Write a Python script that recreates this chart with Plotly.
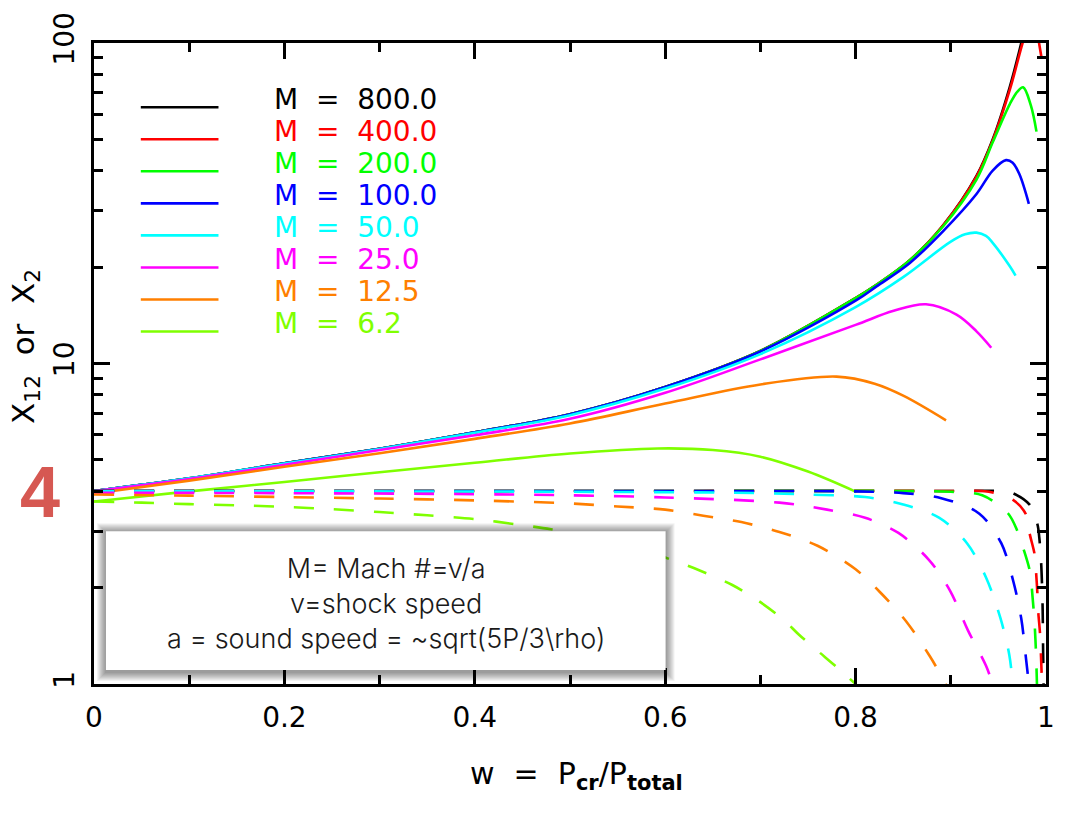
import plotly.graph_objects as go

# ---------------- data ----------------
mach_labels = ["800.0", "400.0", "200.0", "100.0", "50.0", "25.0", "12.5", "6.2"]
colors = ["#000000", "#FF0000", "#00FF00", "#0000FF", "#00FFFF", "#FF00FF", "#FF7F00", "#7FFF00"]

# solid curves: X12 (total compression) vs w
w_s_800 = [0, 0.1, 0.2, 0.3, 0.4, 0.5, 0.6, 0.7, 0.8, 0.822, 0.857, 0.892, 0.927, 0.944, 0.962, 0.974, 0.985]
x12_800 = [4.0, 4.38, 4.88, 5.42, 6.1, 6.95, 8.45, 10.95, 16.0, 17.6, 21.0, 27.0, 38.5, 50.0, 73.0, 100.0, 140.0]

w_s_400 = [0, 0.1, 0.2, 0.3, 0.4, 0.5, 0.6, 0.7, 0.8, 0.822, 0.857, 0.892, 0.927, 0.944, 0.962, 0.975, 0.983, 0.989, 0.9927, 0.9953]
x12_400 = [4.0, 4.38, 4.88, 5.42, 6.1, 6.95, 8.45, 10.95, 16.0, 17.6, 21.0, 27.0, 38.3, 49.6, 71.5, 99.0, 118.0, 117.0, 100.0, 90.0]

w_s_200 = [0, 0.1, 0.2, 0.3, 0.4, 0.5, 0.6, 0.7, 0.8, 0.822, 0.857, 0.892, 0.927, 0.944, 0.962, 0.970, 0.976, 0.984, 0.990]
x12_200 = [4.0, 4.38, 4.88, 5.42, 6.1, 6.95, 8.45, 10.95, 16.0, 17.6, 21.0, 26.8, 37.5, 49.0, 64.5, 70.5, 72.7, 64.0, 52.9]

w_s_100 = [0, 0.1, 0.2, 0.3, 0.4, 0.5, 0.6, 0.7, 0.8, 0.822, 0.857, 0.892, 0.927, 0.944, 0.958, 0.965, 0.972, 0.982]
x12_100 = [4.0, 4.38, 4.88, 5.42, 6.1, 6.95, 8.45, 10.9, 15.7, 17.4, 20.6, 25.9, 33.8, 40.0, 43.1, 42.3, 39.0, 31.5]

w_s_50 = [0, 0.1, 0.2, 0.3, 0.4, 0.5, 0.6, 0.7, 0.8, 0.85, 0.9, 0.915, 0.927, 0.937, 0.944, 0.962, 0.968]
x12_50 = [4.0, 4.38, 4.87, 5.41, 6.08, 6.9, 8.35, 10.7, 15.0, 18.6, 24.0, 25.3, 25.6, 25.0, 23.8, 20.1, 18.8]

w_s_25 = [0, 0.1, 0.2, 0.3, 0.4, 0.5, 0.6, 0.7, 0.8, 0.84, 0.874, 0.906, 0.927, 0.9425]
x12_25 = [4.0, 4.36, 4.83, 5.37, 5.97, 6.72, 8.1, 10.3, 13.2, 14.6, 15.3, 14.2, 12.6, 11.2]

w_s_12 = [0, 0.1, 0.2, 0.3, 0.4, 0.5, 0.6, 0.7, 0.78, 0.82, 0.85, 0.895]
x12_12 = [3.93, 4.31, 4.76, 5.25, 5.82, 6.5, 7.5, 8.6, 9.1, 8.65, 7.94, 6.65]

w_s_6 = [0, 0.1, 0.2, 0.3, 0.4, 0.5, 0.592, 0.65, 0.7, 0.75, 0.801]
x12_6 = [3.71, 3.99, 4.27, 4.58, 4.90, 5.24, 5.43, 5.37, 5.12, 4.60, 3.97]

# dashed curves: X2 (subshock compression) vs w
w_d_800 = [0, 0.5, 0.9, 0.955, 0.965, 0.983, 0.991, 0.993, 0.9948, 0.9958, 0.9965, 0.997, 0.9975]
x2_800 = [4.0, 4.0, 4.0, 3.995, 3.94, 3.62, 3.15, 2.85, 2.42, 2.05, 1.7, 1.25, 1.0]

w_d_400 = [0, 0.5, 0.9, 0.94, 0.965, 0.979, 0.983, 0.988, 0.9895, 0.991, 0.992, 0.9937, 0.9948, 0.9958]
x2_400 = [4.0, 4.0, 4.0, 3.98, 3.76, 3.38, 2.93, 2.54, 2.25, 1.91, 1.66, 1.44, 1.21, 1.0]

w_d_200 = [0, 0.5, 0.85, 0.9, 0.933, 0.96, 0.97, 0.976, 0.983, 0.986, 0.988, 0.9895, 0.9905]
x2_200 = [4.0, 4.0, 4.0, 3.98, 3.88, 3.41, 3.0, 2.66, 2.25, 1.85, 1.55, 1.25, 1.0]

w_d_100 = [0, 0.5, 0.75, 0.8, 0.85, 0.89, 0.93, 0.953, 0.9655, 0.974, 0.979, 0.982]
x2_100 = [4.0, 4.0, 4.0, 3.99, 3.94, 3.80, 3.40, 2.75, 2.1, 1.6, 1.2, 1.0]

w_d_50 = [0, 0.5, 0.7, 0.75, 0.81, 0.85, 0.888, 0.917, 0.937, 0.952, 0.9615, 0.965]
x2_50 = [3.99, 3.98, 3.94, 3.90, 3.83, 3.63, 3.30, 2.75, 2.15, 1.61, 1.23, 1.0]

w_d_25 = [0, 0.2, 0.4, 0.5, 0.6, 0.72, 0.77, 0.81, 0.845, 0.877, 0.899, 0.918, 0.937, 0.944]
x2_25 = [3.95, 3.94, 3.91, 3.88, 3.82, 3.68, 3.50, 3.30, 2.96, 2.44, 1.96, 1.47, 1.14, 1.0]

w_d_12 = [0, 0.1, 0.2, 0.3, 0.4, 0.5, 0.55, 0.6, 0.64, 0.68, 0.72, 0.76, 0.80, 0.826, 0.853, 0.878, 0.895]
x2_12 = [3.90, 3.87, 3.83, 3.79, 3.74, 3.66, 3.58, 3.50, 3.35, 3.20, 2.98, 2.70, 2.28, 1.93, 1.57, 1.22, 1.0]

w_d_6 = [0, 0.05, 0.1, 0.15, 0.2, 0.25, 0.3, 0.35, 0.4, 0.45, 0.48, 0.52, 0.56, 0.6, 0.63, 0.67, 0.70, 0.725, 0.74, 0.76, 0.78, 0.80]
x2_6 = [3.71, 3.68, 3.64, 3.61, 3.57, 3.51, 3.44, 3.36, 3.27, 3.13, 3.04, 2.88, 2.70, 2.48, 2.30, 2.04, 1.80, 1.58, 1.43, 1.27, 1.13, 1.0]

x_tick_vals = [0, 0.2, 0.4, 0.6, 0.8, 1]
x_tick_text = ["0", "0.2", "0.4", "0.6", "0.8", "1"]
y_tick_vals = [1, 10, 100]
y_tick_text = ["1", "10", "100"]
y_minor_vals = [2, 3, 4, 5, 6, 7, 8, 9, 20, 30, 40, 50, 60, 70, 80, 90]

box_lines = ["M= Mach #=v/a", "v=shock speed", "a = sound speed = ~sqrt(5P/3\\rho)"]

solids = [(w_s_800, x12_800), (w_s_400, x12_400), (w_s_200, x12_200), (w_s_100, x12_100),
          (w_s_50, x12_50), (w_s_25, x12_25), (w_s_12, x12_12), (w_s_6, x12_6)]
dashes = [(w_d_800, x2_800), (w_d_400, x2_400), (w_d_200, x2_200), (w_d_100, x2_100),
          (w_d_50, x2_50), (w_d_25, x2_25), (w_d_12, x2_12), (w_d_6, x2_6)]

# ---------------- layout helpers (pixel -> paper) ----------------
W, H = 1067, 817
L, R, T, B = 94, 1050, 38, 684


def px(x):
    return (x - L) / (R - L)


def py(y):
    return (B - y) / (B - T)


fig = go.Figure()

for (w, v), c, m in zip(solids, colors, mach_labels):
    fig.add_trace(go.Scatter(x=w, y=v, mode="lines", name="M = " + m,
                             line=dict(color=c, width=2.6, shape="spline", smoothing=1.0),
                             showlegend=False))

for (w, v), c, m in zip(dashes, colors, mach_labels):
    fig.add_trace(go.Scatter(x=w, y=v, mode="lines", name="M = " + m + " (X2)",
                             line=dict(color=c, width=2.6, dash="20px,20px", shape="spline", smoothing=0.9),
                             showlegend=False))

shapes = []
annotations = []

# custom legend
tick_font = "DejaVu Sans, Liberation Sans, sans-serif"
for i, (m, c) in enumerate(zip(mach_labels, colors)):
    yy = 102.7 + 32.3 * i
    shapes.append(dict(type="line", xref="paper", yref="paper", x0=px(141), x1=px(219),
                       y0=py(yy), y1=py(yy), line=dict(color=c, width=2.6), layer="above"))
    annotations.append(dict(xref="paper", yref="paper", x=px(273), y=py(yy - 8), xanchor="left",
                            yanchor="middle", showarrow=False, text="M  =  " + m,
                            font=dict(family=tick_font, size=28, color=c)))

# text box with soft shadow
bx0, bx1, by0, by1 = 106, 668, 530, 670
for k in range(9, 0, -1):
    shapes.append(dict(type="rect", xref="paper", yref="paper",
                       x0=px(bx0 - k), x1=px(bx1 + k), y0=py(by1 + k + 2), y1=py(by0 - k + 1),
                       fillcolor="rgba(0,0,0,0.05)", line=dict(width=0), layer="above"))
shapes.append(dict(type="rect", xref="paper", yref="paper", x0=px(bx0), x1=px(bx1),
                   y0=py(by1), y1=py(by0), fillcolor="white", line=dict(width=0), layer="above"))
annotations.append(dict(xref="paper", yref="paper", x=px((bx0 + bx1) / 2), y=py(603),
                        xanchor="center", yanchor="middle", showarrow=False,
                        text="<br>".join(box_lines), align="center",
                        font=dict(family="Inter, Lato, Helvetica Neue, sans-serif", size=27,
                                  color="#1a1a1a", weight=300)))

# big red "4"
annotations.append(dict(xref="paper", yref="paper", x=px(40), y=py(491), xanchor="center",
                        yanchor="middle", showarrow=False, text="<b>4</b>",
                        font=dict(family="Liberation Sans, Arial, sans-serif", size=72,
                                  color="rgb(214,88,82)")))

# axis titles
annotations.append(dict(xref="paper", yref="paper", x=px(579), y=py(776), xanchor="center",
                        yanchor="middle", showarrow=False,
                        text="w  =  P<sub><b>cr</b></sub>/P<sub><b>total</b></sub>",
                        font=dict(family=tick_font, size=30, color="black")))
annotations.append(dict(xref="paper", yref="paper", x=px(25), y=py(344), xanchor="center",
                        yanchor="middle", showarrow=False, textangle=-90,
                        text="X<sub>12</sub>  or  X<sub>2</sub>",
                        font=dict(family=tick_font, size=31, color="black")))

axis_common = dict(showline=True, linecolor="black", linewidth=3, mirror="allticks",
                   ticks="inside", ticklen=16, tickwidth=2.5, tickcolor="black",
                   showgrid=False, zeroline=False,
                   tickfont=dict(family=tick_font, size=28, color="black"))

fig.update_layout(
    width=W, height=H,
    margin=dict(l=L, r=W - R, t=T, b=H - B),
    paper_bgcolor="white", plot_bgcolor="white",
    showlegend=False,
    shapes=shapes, annotations=annotations,
    xaxis=dict(range=[0, 1], tickmode="array", tickvals=x_tick_vals, ticktext=x_tick_text,
               minor=dict(dtick=0.1, ticks="inside", ticklen=9, tickwidth=2.5, tickcolor="black"),
               ticklabelstandoff=6, **axis_common),
    yaxis=dict(type="log", range=[0, 2], tickmode="array", tickvals=y_tick_vals, ticktext=y_tick_text,
               tickangle=-90,
               minor=dict(tickmode="array", tickvals=y_minor_vals, ticks="inside", ticklen=9,
                          tickwidth=2.5, tickcolor="black"),
               ticklabelstandoff=6, **axis_common),
)

fig.write_html("out.html")
